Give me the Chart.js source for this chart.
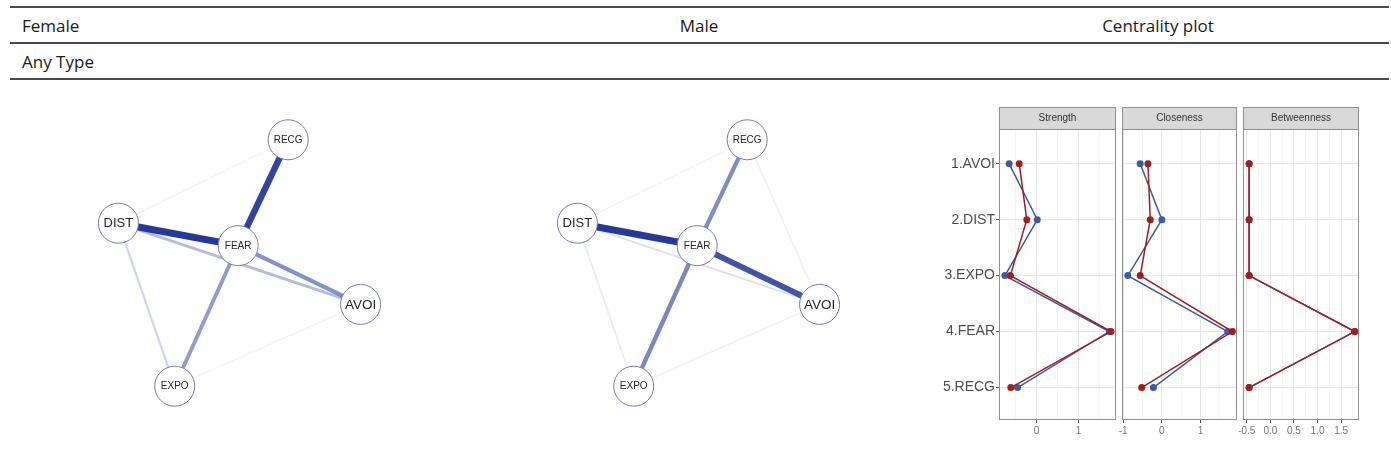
<!DOCTYPE html>
<html>
<head>
<meta charset="utf-8">
<script src="https://cdn.jsdelivr.net/npm/chart.js@4.4.0/dist/chart.umd.min.js"></script>
<style>
  body { margin: 0; background: #fff; width: 1391px; height: 466px; overflow: hidden; position: relative; font-family: "Open Sans", sans-serif; }
  .rule { position: absolute; left: 10px; width: 1379px; height: 2px; background: #4a4a4a; }
  .hd { position: absolute; font-size: 17px; line-height: 20px; color: #1a1a1a; white-space: nowrap; }
  .box { position: absolute; }
</style>
</head>
<body>
<div class="rule" style="top:6px"></div>
<div class="rule" style="top:42px"></div>
<div class="rule" style="top:78px"></div>
<div class="hd" style="left:22px; top:16px">Female</div>
<div class="hd" style="left:699px; top:16px; transform:translateX(-50%)">Male</div>
<div class="hd" style="left:1158px; top:16px; transform:translateX(-50%)">Centrality plot</div>
<div class="hd" style="left:22px; top:52px">Any Type</div>

<div class="box" style="left:70px; top:109px; width:339px; height:308px"><canvas id="netFemale"></canvas></div>
<div class="box" style="left:529px; top:109px; width:339px; height:308px"><canvas id="netMale"></canvas></div>
<div class="box" style="left:920px; top:107px; width:206px; height:333px"><canvas id="strength"></canvas></div>
<div class="box" style="left:1112px; top:107px; width:135px; height:333px"><canvas id="closeness"></canvas></div>
<div class="box" style="left:1233px; top:107px; width:136px; height:333px"><canvas id="betweenness"></canvas></div>

<script>
// nodes and their (shared) layout
var nodeNames = ['AVOI', 'DIST', 'EXPO', 'FEAR', 'RECG'];
var layoutX = [1.0, -1.0, -0.535, -0.011, 0.402];
var layoutY = [-0.336, 0.323, -1.0, 0.141, 1.0];

// edges: from, to, weight
var femaleFrom   = ['DIST', 'FEAR', 'FEAR', 'FEAR', 'DIST', 'DIST', 'DIST', 'EXPO'];
var femaleTo     = ['FEAR', 'RECG', 'AVOI', 'EXPO', 'AVOI', 'EXPO', 'RECG', 'AVOI'];
var femaleWeight = [0.40, 0.36, 0.21, 0.19, 0.13, 0.08, 0.02, 0.02];

var maleFrom   = ['DIST', 'FEAR', 'FEAR', 'FEAR', 'DIST', 'DIST', 'DIST', 'RECG', 'EXPO'];
var maleTo     = ['FEAR', 'AVOI', 'RECG', 'EXPO', 'AVOI', 'EXPO', 'RECG', 'AVOI', 'AVOI'];
var maleWeight = [0.40, 0.33, 0.22, 0.23, 0.06, 0.04, 0.02, 0.03, 0.03];

// centrality (z-scores)
var rowLabels = ['1.AVOI', '2.DIST', '3.EXPO', '4.FEAR', '5.RECG'];
var strengthFemale    = [-0.65, 0.02, -0.75, 1.73, -0.45];
var strengthMale      = [-0.41, -0.23, -0.62, 1.77, -0.61];
var closenessFemale   = [-0.56, 0.00, -0.88, 1.70, -0.22];
var closenessMale     = [-0.36, -0.30, -0.56, 1.82, -0.52];
var betweennessFemale = [-0.45, -0.45, -0.45, 1.79, -0.45];
var betweennessMale   = [-0.45, -0.45, -0.45, 1.79, -0.45];

var labelSize = { AVOI: 13.5, DIST: 13, EXPO: 10, FEAR: 10, RECG: 10 };

function nodePoint(name) {
    var i = nodeNames.indexOf(name);
    return { x: layoutX[i], y: layoutY[i] };
}

// draws node names in the middle of the circles
var nodeLabels = {
    id: 'nodeLabels',
    afterDatasetsDraw: function (chart) {
        var ctx = chart.ctx;
        var meta = chart.getDatasetMeta(0);
        ctx.save();
        ctx.fillStyle = '#262626';
        ctx.textAlign = 'center';
        ctx.textBaseline = 'middle';
        meta.data.forEach(function (pt, i) {
            var name = nodeNames[i];
            ctx.font = labelSize[name] + 'px "Liberation Sans", Arial, sans-serif';
            ctx.fillText(name, pt.x, pt.y + 0.5);
        });
        ctx.restore();
    }
};

function makeNetwork(id, from, to, weight) {
    var datasets = [{
        data: nodeNames.map(function (n) { return nodePoint(n); }),
        pointRadius: 20,
        pointBackgroundColor: '#ffffff',
        pointBorderColor: '#7478bd',
        pointBorderWidth: 1,
        order: 0
    }];
    for (var k = 0; k < from.length; k++) {
        var w = weight[k];
        var alpha = Math.min(1, w / 0.38);
        datasets.push({
            data: [nodePoint(from[k]), nodePoint(to[k])],
            showLine: true,
            pointRadius: 0,
            borderWidth: 1 + w * 15,
            borderColor: 'rgba(38,57,154,' + alpha.toFixed(3) + ')',
            order: 1 + (1 - w)
        });
    }
    return new Chart(document.getElementById(id), {
        type: 'scatter',
        data: { datasets: datasets },
        options: {
            responsive: true,
            maintainAspectRatio: false,
            animation: false,
            clip: false,
            layout: { padding: 0, autoPadding: false },
            plugins: { legend: { display: false }, tooltip: { enabled: false } },
            scales: {
                x: { type: 'linear', min: -1.4, max: 1.4, display: false },
                y: { type: 'linear', min: -1.25, max: 1.25, display: false }
            }
        },
        plugins: [nodeLabels]
    });
}

makeNetwork('netFemale', femaleFrom, femaleTo, femaleWeight);
makeNetwork('netMale', maleFrom, maleTo, maleWeight);

// facet strip + panel border
var strip = {
    id: 'strip',
    afterDraw: function (chart, args, opts) {
        var ctx = chart.ctx, a = chart.chartArea;
        var w = a.right - a.left;
        ctx.save();
        ctx.fillStyle = '#d9d9d9';
        ctx.fillRect(a.left, a.top - 22, w, 22);
        ctx.strokeStyle = '#8f8f8f';
        ctx.lineWidth = 1;
        ctx.strokeRect(a.left + 0.5, a.top - 21.5, w - 1, 22);
        ctx.strokeRect(a.left + 0.5, a.top + 0.5, w - 1, a.bottom - a.top - 1);
        ctx.fillStyle = '#333333';
        ctx.font = '10px "Liberation Sans", Arial, sans-serif';
        ctx.textAlign = 'center';
        ctx.textBaseline = 'middle';
        ctx.fillText(opts.title, a.left + w / 2, a.top - 11);
        ctx.restore();
    }
};

function toPoints(values) {
    return values.map(function (v, i) { return { x: v, y: i + 1 }; });
}

function makeCentrality(id, title, female, male, xmin, xmax, step, majorStep, decimals, showRows) {
    var isMajor = function (v) { return Math.abs(v / majorStep - Math.round(v / majorStep)) < 1e-6; };
    return new Chart(document.getElementById(id), {
        type: 'scatter',
        data: {
            datasets: [{
                label: 'Male',
                data: toPoints(male),
                showLine: true,
                borderColor: '#a31d1d',
                backgroundColor: '#a31d1d',
                borderWidth: 1.5,
                pointRadius: 3.5,
                pointBorderWidth: 0,
                order: 0
            }, {
                label: 'Female',
                data: toPoints(female),
                showLine: true,
                borderColor: '#3d5aa7',
                backgroundColor: '#3d5aa7',
                borderWidth: 1.5,
                pointRadius: 3.5,
                pointBorderWidth: 0,
                order: 1
            }]
        },
        options: {
            responsive: true,
            maintainAspectRatio: false,
            animation: false,
            clip: false,
            layout: { padding: { left: 10, right: 10, top: 22, bottom: 0 }, autoPadding: false },
            plugins: { legend: { display: false }, tooltip: { enabled: false }, strip: { title: title } },
            scales: {
                x: {
                    type: 'linear', min: xmin, max: xmax,
                    border: { display: false },
                    grid: {
                        color: function (c) { return isMajor(c.tick.value) ? '#e6e6e6' : '#f4f4f4'; },
                        tickColor: function (c) { return isMajor(c.tick.value) ? '#555555' : 'rgba(0,0,0,0)'; },
                        tickLength: 3
                    },
                    ticks: {
                        stepSize: step, includeBounds: false, autoSkip: false, maxRotation: 0,
                        padding: 2, color: '#777777',
                        font: { size: 10, family: '"Liberation Sans", Arial, sans-serif' },
                        callback: function (v) { return isMajor(v) ? v.toFixed(decimals) : ''; }
                    },
                    afterFit: function (s) { s.height = 20; }
                },
                y: {
                    type: 'linear', min: 0.38, max: 5.58, reverse: true,
                    border: { display: false },
                    grid: { color: '#e6e6e6', tickColor: '#555555', tickLength: 3, drawTicks: showRows },
                    ticks: {
                        display: showRows, stepSize: 1, includeBounds: false, padding: 1,
                        color: '#4d4d4d',
                        font: { size: 14, family: '"Liberation Sans", Arial, sans-serif' },
                        callback: function (v) { return rowLabels[Math.round(v) - 1]; }
                    },
                    afterFit: function (s) { s.width = showRows ? 69 : 0; }
                }
            }
        },
        plugins: [strip]
    });
}

makeCentrality('strength', 'Strength', strengthFemale, strengthMale, -0.89, 1.89, 0.5, 1, 0, true);
makeCentrality('closeness', 'Closeness', closenessFemale, closenessMale, -1.03, 1.94, 0.5, 1, 0, false);
makeCentrality('betweenness', 'Betweenness', betweennessFemale, betweennessMale, -0.58, 1.88, 0.25, 0.5, 1, false);
</script>
</body>
</html>
